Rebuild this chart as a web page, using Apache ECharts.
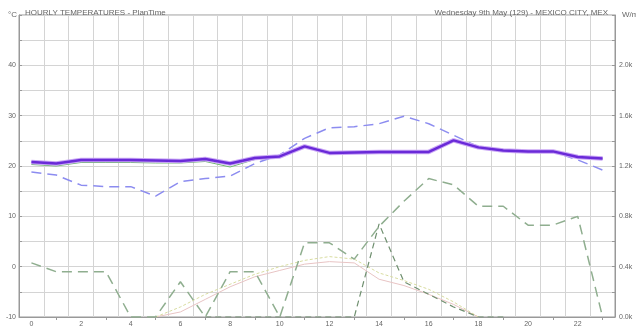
<!DOCTYPE html>
<html><head><meta charset="utf-8">
<script src="https://cdn.jsdelivr.net/npm/echarts@6/dist/echarts.min.js"></script>
<style>html,body{margin:0;padding:0;background:#fff}#c{width:636px;height:332px}</style>
</head><body><div id="c"></div>
<script>
const hours = ['0','1','2','3','4','5','6','7','8','9','10','11','12','13','14','15','16','17','18','19','20','21','22','23'];
// temperature (°C)
const temperature = [20.8,20.5,21.2,21.2,21.2,21.1,21.0,21.4,20.5,21.6,21.9,23.9,22.6,22.7,22.8,22.8,22.8,25.1,23.7,23.1,22.9,22.9,21.8,21.5];
const feelsLike   = [20.3,20.0,20.7,20.7,20.7,20.6,20.6,20.9,19.8,21.3,21.7,23.8,22.5,22.6,22.7,22.7,22.7,25.0,23.6,23.0,22.8,22.8,21.7,21.4];
const dryBulbForecast = [18.8,18.2,16.2,15.9,15.9,14.0,16.9,17.5,18.0,20.5,22.2,25.5,27.6,27.8,28.4,29.9,28.4,26.1,23.8,23.2,23.0,22.9,21.2,19.2];
// radiation (kW/m²)
const radGlobal  = [0.43,0.36,0.36,0.36,0,0,0.28,0,0.36,0.36,0,0.59,0.59,0.46,0.72,0.92,1.10,1.05,0.88,0.88,0.73,0.73,0.80,0];
const radDirect  = [null,null,null,null,null,null,null,0,0,0,0,0,0,0,0.74,0.28,0.18,0.08,0,0,null,null,null,null];
const radDiffuse = [null,null,null,null,null,0,0.08,0.18,0.26,0.34,0.40,0.45,0.48,0.46,0.35,0.29,0.22,0.12,0,null,null,null,null,null];
const radOther   = [null,null,null,null,null,0,0.04,0.14,0.24,0.32,0.37,0.42,0.44,0.43,0.30,0.25,0.18,0.10,0,null,null,null,null,null];

const chart = echarts.init(document.getElementById('c'));
const txt = '#666';
chart.setOption({
  animation:false,
  backgroundColor:'#fff',
  title:[
    {text:'HOURLY TEMPERATURES - PlanTime',left:20,top:4,textStyle:{fontSize:8,fontWeight:'normal',color:txt,fontFamily:'Liberation Sans'}},
    {text:'Wednesday 9th May (129) - MEXICO CITY, MEX',right:23,top:4,textStyle:{fontSize:8,fontWeight:'normal',color:txt,fontFamily:'Liberation Sans'}},
    {text:'°C',left:3,top:6,textStyle:{fontSize:8,fontWeight:'normal',color:txt,fontFamily:'Liberation Sans'}},
    {text:'W/m²',left:617,top:6,textStyle:{fontSize:8,fontWeight:'normal',color:txt,fontFamily:'Liberation Sans'}}
  ],
  grid:{left:19,right:21,top:15,bottom:15,show:true,borderColor:'#999',borderWidth:1},
  xAxis:{type:'category',data:hours,boundaryGap:true,
    axisLine:{onZero:false,lineStyle:{color:'#999'}},
    axisTick:{show:true,alignWithLabel:true,length:3,interval:function(i){return i%2===1;},lineStyle:{color:'#999'}},
    axisLabel:{interval:1,fontSize:7,color:txt,margin:4,fontFamily:'Liberation Sans'},
    splitLine:{show:true,interval:0,lineStyle:{color:'#d4d4d4'}}},
  yAxis:[
    {type:'value',min:-10,max:50,interval:5,
     axisLine:{show:true,lineStyle:{color:'#999'}},
     axisTick:{show:true,inside:true,length:3,lineStyle:{color:'#999'}},
     axisLabel:{fontSize:7,color:txt,margin:3,fontFamily:'Liberation Sans',formatter:function(v){return (v%10===0&&v<50)?String(v):'';}},
     splitLine:{show:true,lineStyle:{color:'#d4d4d4'}}},
    {type:'value',min:0,max:2.4,interval:0.2,position:'right',
     axisLine:{show:true,lineStyle:{color:'#999'}},
     axisTick:{show:true,inside:true,length:3,lineStyle:{color:'#999'}},
     axisLabel:{fontSize:7,color:txt,margin:4,fontFamily:'Liberation Sans',formatter:function(v){var n=Math.round(v*10);return (n%4===0&&n<24)?(n/10).toFixed(1)+'k':'';}},
     splitLine:{show:false}}
  ],
  series:[
    {type:'line',yAxisIndex:1,data:radOther,symbol:'none',lineStyle:{color:'#e8c4c4',width:1}},
    {type:'line',yAxisIndex:1,data:radDiffuse,symbol:'none',lineStyle:{color:'#d8dca0',width:1,type:[3,2]}},
    {type:'line',yAxisIndex:1,data:radDirect,symbol:'none',lineStyle:{color:'#6f8f6f',width:1.2,type:[6,4]}},
    {type:'line',yAxisIndex:1,data:radGlobal,symbol:'none',lineStyle:{color:'#8fae8f',width:1.5,type:[10,6]}},
    {type:'line',data:dryBulbForecast,symbol:'none',lineStyle:{color:'#8c8cf0',width:1.5,type:[10,6]}},
    {type:'line',data:feelsLike,symbol:'none',lineStyle:{color:'#6fb86f',width:1}},
    {type:'line',data:temperature,symbol:'none',lineStyle:{color:'#c9a6f5',width:4.5}},
    {type:'line',data:temperature,symbol:'none',lineStyle:{color:'#6a2ad8',width:2.5}}
  ]
});
</script></body></html>
